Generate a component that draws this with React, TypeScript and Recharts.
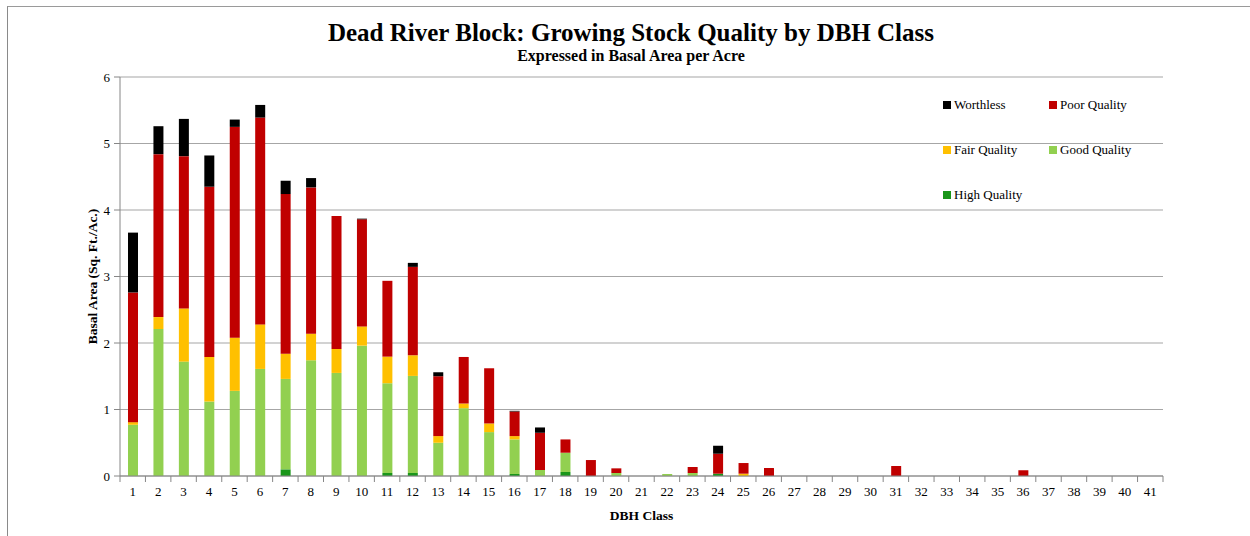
import React from "react";
import { BarChart, Bar, XAxis, YAxis, CartesianGrid } from "recharts";

const dbhClasses = [
  "1", "2", "3", "4", "5", "6", "7", "8", "9", "10",
  "11", "12", "13", "14", "15", "16", "17", "18", "19", "20",
  "21", "22", "23", "24", "25", "26", "27", "28", "29", "30",
  "31", "32", "33", "34", "35", "36", "37", "38", "39", "40", "41",
];

const highQuality = [
  0, 0, 0, 0, 0, 0, 0.1, 0, 0, 0,
  0.045, 0.045, 0, 0, 0, 0.03, 0, 0.06, 0, 0,
  0, 0, 0, 0.035, 0, 0, 0, 0, 0, 0,
  0, 0, 0, 0, 0, 0, 0, 0, 0, 0, 0,
];

const goodQuality = [
  0.77, 2.21, 1.72, 1.12, 1.28, 1.61, 1.36, 1.74, 1.55, 1.96,
  1.35, 1.46, 0.5, 1.02, 0.66, 0.52, 0.09, 0.29, 0, 0.045,
  0, 0.03, 0.045, 0, 0, 0, 0, 0, 0, 0,
  0, 0, 0, 0, 0, 0, 0, 0, 0, 0, 0,
];

const fairQuality = [
  0.04, 0.18, 0.8, 0.67, 0.8, 0.67, 0.38, 0.4, 0.36, 0.29,
  0.4, 0.31, 0.1, 0.07, 0.13, 0.05, 0, 0, 0, 0,
  0, 0, 0, 0, 0.035, 0, 0, 0, 0, 0,
  0, 0, 0, 0, 0, 0, 0, 0, 0, 0, 0,
];

const poorQuality = [
  1.95, 2.45, 2.29, 2.56, 3.17, 3.11, 2.4, 2.2, 2.0, 1.61,
  1.14, 1.33, 0.9, 0.7, 0.83, 0.37, 0.56, 0.2, 0.24, 0.07,
  0, 0, 0.09, 0.3, 0.16, 0.12, 0, 0, 0, 0,
  0.15, 0, 0, 0, 0, 0.085, 0, 0, 0, 0, 0,
];

const worthless = [
  0.9, 0.42, 0.56, 0.47, 0.11, 0.19, 0.2, 0.14, 0, 0.01,
  0, 0.06, 0.06, 0, 0, 0.01, 0.08, 0, 0, 0,
  0, 0, 0, 0.12, 0, 0, 0, 0, 0, 0,
  0, 0, 0, 0, 0, 0, 0, 0, 0, 0, 0,
];

const yTicks = [0, 1, 2, 3, 4, 5, 6];

const data = dbhClasses.map((name, i) => ({
  name,
  high: highQuality[i],
  good: goodQuality[i],
  fair: fairQuality[i],
  poor: poorQuality[i],
  worthless: worthless[i],
}));

const series = [
  { key: "high", label: "High Quality", color: "#1a961a" },
  { key: "good", label: "Good Quality", color: "#92d050" },
  { key: "fair", label: "Fair Quality", color: "#ffc000" },
  { key: "poor", label: "Poor Quality", color: "#c00000" },
  { key: "worthless", label: "Worthless", color: "#000000" },
];

const legendOrder = ["worthless", "poor", "fair", "good", "high"];

const FONT = "'Liberation Serif', 'Times New Roman', serif";
const AXIS = "#868686";
const BAND = (1163 - 120) / 41;

function XTick(props: any) {
  const { x, y, payload, index } = props;
  return (
    <g>
      <line x1={x - BAND / 2} x2={x - BAND / 2} y1={y - 8} y2={y - 2} stroke={AXIS} />
      {index === dbhClasses.length - 1 && (
        <line x1={x + BAND / 2} x2={x + BAND / 2} y1={y - 8} y2={y - 2} stroke={AXIS} />
      )}
      <text x={x} y={y + 3} dy="0.71em" textAnchor="middle" fontSize={13} fontFamily={FONT} fill="#000">
        {payload.value}
      </text>
    </g>
  );
}

function LegendBox() {
  return (
    <div style={{ position: "absolute", left: 943, top: 97, width: 220, height: 110, fontFamily: FONT, fontSize: 13 }}>
      {legendOrder.map((k, i) => {
        const s = series.find((d) => d.key === k)!;
        const col = i % 2;
        const row = Math.floor(i / 2);
        return (
          <div
            key={k}
            style={{
              position: "absolute",
              left: col * 106,
              top: row * 45,
              display: "flex",
              alignItems: "center",
              whiteSpace: "nowrap",
              color: "#000",
            }}
          >
            <span style={{ width: 8, height: 8, background: s.color, marginRight: 3, display: "inline-block" }} />
            {s.label}
          </div>
        );
      })}
    </div>
  );
}

export default function App() {
  return (
    <div style={{ position: "absolute", left: 0, top: 0, width: 1250, height: 536, overflow: "hidden", background: "#fff" }}>
      <div style={{ position: "absolute", left: 7, top: 6, width: 1400, height: 700, borderTop: "1px solid #9a9a9a", borderLeft: "1px solid #8a8a8a" }} />
      <div style={{ position: "absolute", left: 0, top: 19, width: 1262, textAlign: "center", fontFamily: FONT, fontWeight: "bold", fontSize: 25, color: "#000" }}>
        Dead River Block: Growing Stock Quality by DBH Class
      </div>
      <div style={{ position: "absolute", left: 0, top: 47, width: 1262, textAlign: "center", fontFamily: FONT, fontWeight: "bold", fontSize: 16, color: "#000" }}>
        Expressed in Basal Area per Acre
      </div>
      <div style={{ position: "absolute", left: 0, top: 0 }}>
        <BarChart width={1250} height={536} data={data} margin={{ top: 77, right: 87, bottom: 15, left: 0 }} barSize={10}>
          <CartesianGrid vertical={false} stroke="#a6a6a6" strokeWidth={1.2} />
          <XAxis
            dataKey="name"
            height={45}
            stroke={AXIS}
            tickLine={false}
            tick={<XTick />}
            interval={0}
            label={{ value: "DBH Class", position: "insideBottom", offset: 1, fontFamily: FONT, fontWeight: "bold", fontSize: 13.5, fill: "#000" }}
          />
          <YAxis
            width={120}
            domain={[0, 6]}
            ticks={yTicks}
            stroke={AXIS}
            tickSize={6}
            tickMargin={4}
            tick={{ fontFamily: FONT, fontSize: 13, fill: "#000" }}
            label={{ value: "Basal Area (Sq. Ft./Ac.)", angle: -90, position: "center", dx: 32, fontFamily: FONT, fontWeight: "bold", fontSize: 13.5, fill: "#000" }}
          />
          {series.map((s) => (
            <Bar key={s.key} dataKey={s.key} stackId="a" fill={s.color} name={s.label} isAnimationActive={false} />
          ))}
        </BarChart>
      </div>
      <LegendBox />
    </div>
  );
}
